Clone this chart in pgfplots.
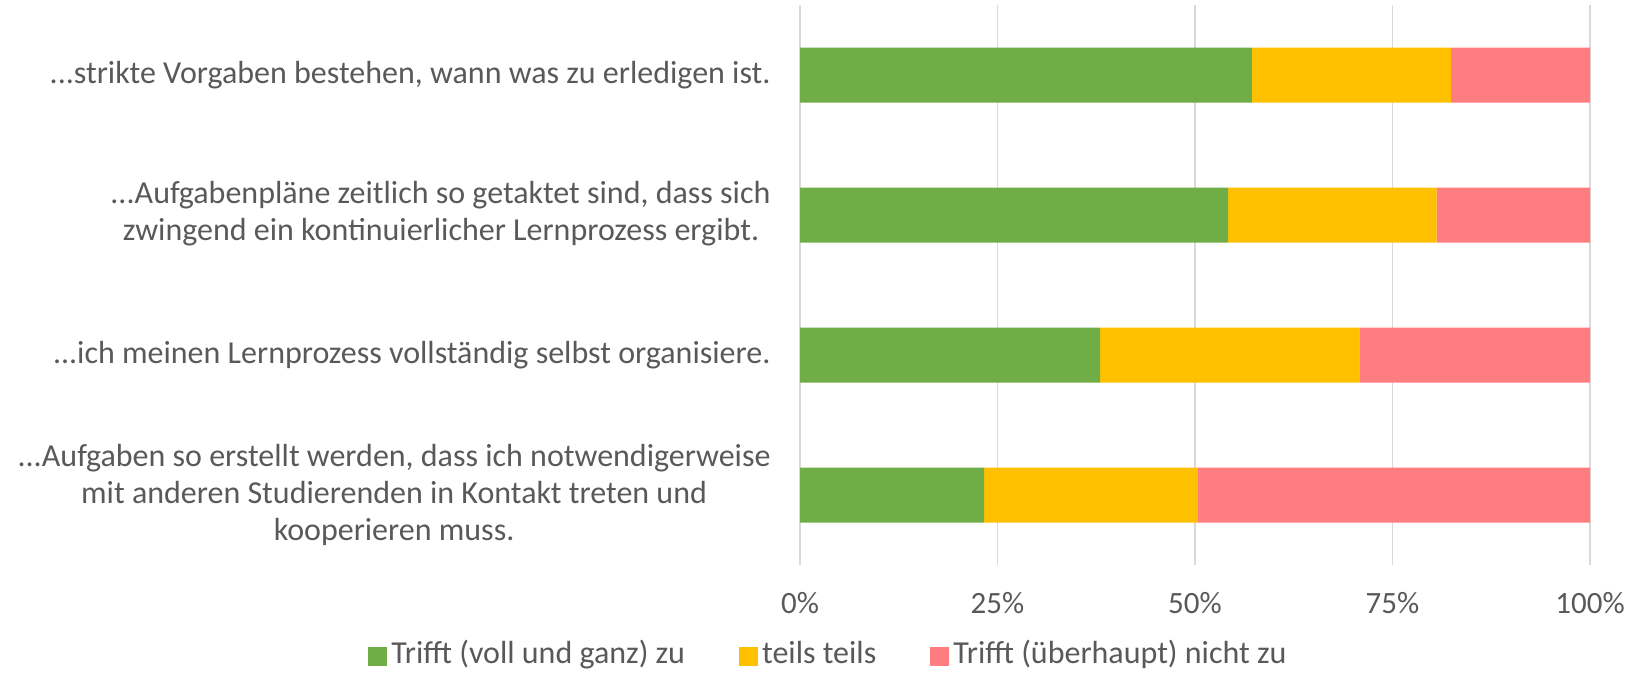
\documentclass[border=0pt]{standalone}
\usepackage{pgfplots}
\pgfplotsset{compat=1.18}
\usepackage{fontspec}
\setmainfont{Carlito}
\definecolor{cgreen}{HTML}{70AD47}
\definecolor{cyellow}{HTML}{FFC000}
\definecolor{cred}{HTML}{FF7C80}
\definecolor{textgray}{HTML}{595959}
\definecolor{gridgray}{HTML}{D9D9D9}
\newcommand{\dd}{...}
\begin{document}
\begin{tikzpicture}
\useasboundingbox (0,0) rectangle (820bp,337.5bp);
\begin{axis}[
 at={(400bp,55bp)}, anchor=south west,
 scale only axis, width=395bp, height=280bp,
 xbar stacked, bar width=27.5bp,
 xmin=0, xmax=100, ymin=-0.5, ymax=3.5, y dir=reverse,
 xtick={0,25,50,75,100}, xticklabels={0\%,25\%,50\%,75\%,100\%},
 ytick={0,1,2,3},
 yticklabels={
 {\dd strikte Vorgaben bestehen, wann was zu erledigen ist.},
 {\begin{tabular}{@{}r@{}}\dd Aufgabenpläne zeitlich so getaktet sind, dass sich\\zwingend ein kontinuierlicher Lernprozess ergibt.\hspace*{5.7bp}\end{tabular}},
 {\dd ich meinen Lernprozess vollständig selbst organisiere.},
 {\dd Aufgaben so erstellt werden, dass ich notwendigerweise\\mit anderen Studierenden in Kontakt treten und\\kooperieren muss.}},
 yticklabel style={align=center, font=\fontsize{16bp}{18.5bp}\selectfont, text=textgray, xshift=-11.2bp},
 xticklabel style={font=\fontsize{15.5bp}{18bp}\selectfont, text=textgray, yshift=-10bp},
 /pgf/number format/assume math mode=true,
 xmajorgrids, grid style={draw=gridgray, line width=0.75bp},
 axis line style={draw=none}, major tick length=0pt,
 legend style={at={(0.0372,-0.1625)}, anchor=center, legend columns=-1, draw=none, inner sep=0pt,
   font=\fontsize{16bp}{18bp}\selectfont, text=textgray,
   nodes={text height=11bp, text depth=3.5bp},
   /tikz/every even column/.append style={column sep=25bp}},
 legend image code/.code={\fill[#1] (0bp,-4.75bp) rectangle (9.5bp,4.75bp);},
]
\addplot[fill=cgreen, draw=none] coordinates {(57.2,0) (54.2,1) (38.0,2) (23.3,3)};
\addplot[fill=cyellow, draw=none] coordinates {(25.2,0) (26.4,1) (32.8,2) (27.0,3)};
\addplot[fill=cred, draw=none] coordinates {(17.6,0) (19.4,1) (29.2,2) (49.7,3)};
\legend{Trifft (voll und ganz) zu, teils teils, Trifft (überhaupt) nicht zu}
\end{axis}
\end{tikzpicture}
\end{document}
